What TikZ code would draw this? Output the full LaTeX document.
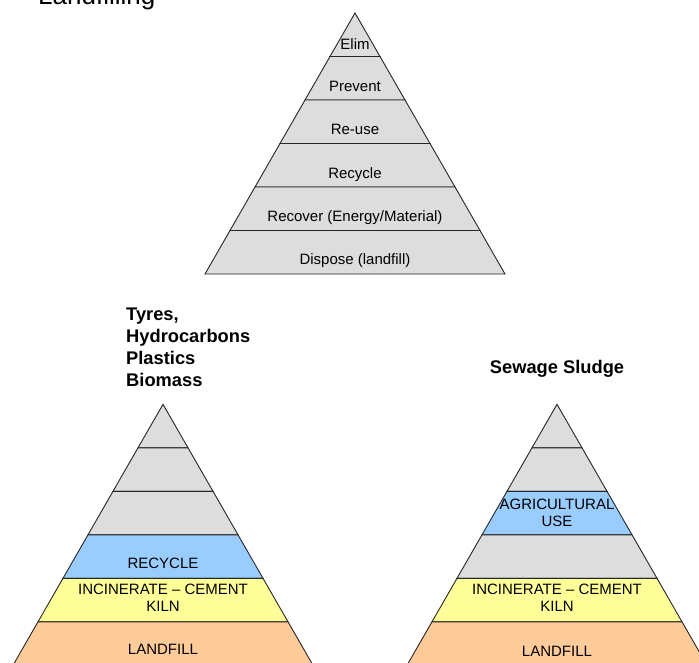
\documentclass[tikz,border=0pt]{standalone}
\usepackage{fontspec}
\setmainfont{Liberation Sans}
\definecolor{bandgray}{HTML}{DDDDDD}
\definecolor{bandblue}{HTML}{99CCFF}
\definecolor{bandyellow}{HTML}{FFFF99}
\definecolor{bandorange}{HTML}{FFCC99}
\tikzset{
  band/.style={draw=black!85, line width=0.9pt, line join=miter},
  lbl/.style={inner sep=0pt, font=\fontsize{15}{17.4}\selectfont, align=center},
  head/.style={inner sep=0pt, font=\fontsize{18.3}{22}\selectfont\bfseries, anchor=base west},
}
% six stacked bands of a pyramid: apex x, apex y, list of six fill colours
% (each band is 43.5 high; half-width grows by 25 per band)
\newcommand{\wastepyramid}[3]{%
  \foreach \c [count=\i from 0] in {#3} {
    \pgfmathsetmacro\ya{#2+\i*43.5}
    \pgfmathsetmacro\yb{#2+(\i+1)*43.5}
    \pgfmathsetmacro\wa{\i*25}
    \pgfmathsetmacro\wb{(\i+1)*25}
    \filldraw[band, fill=\c] (#1-\wa,\ya) -- (#1+\wa,\ya) -- (#1+\wb,\yb) -- (#1-\wb,\yb) -- cycle;
  }}
\begin{document}
\begin{tikzpicture}[x=1pt,y=-1pt]
\useasboundingbox[fill=white] (0,0) rectangle (699,662);

% title, partly above the page
\node[inner sep=0pt, anchor=base west, font=\fontsize{26}{30}\selectfont] (title) at (38,4.5) {Landfilling};

% general waste hierarchy
\wastepyramid{355}{13}{bandgray,bandgray,bandgray,bandgray,bandgray,bandgray}
\node[lbl, anchor=base] (elim) at (355,49.5) {Elim};
\node[lbl, anchor=base] (prevent) at (355,91.5) {Prevent};
\node[lbl, anchor=base] (reuse) at (355,134.5) {Re-use};
\node[lbl, anchor=base] (recycle) at (355,178.5) {Recycle};
\node[lbl, anchor=base] (recover) at (355,221.5) {Recover (Energy/Material)};
\node[lbl, anchor=base] (dispose) at (355,264.5) {Dispose (landfill)};

% tyres, hydrocarbons, plastics, biomass
\node[head] (h1) at (126,320) {Tyres,};
\node[head] (h2) at (126,342) {Hydrocarbons};
\node[head] (h3) at (126,364) {Plastics};
\node[head] (h4) at (126,386) {Biomass};
\wastepyramid{163}{404.3}{bandgray,bandgray,bandgray,bandblue,bandyellow,bandorange}
\node[lbl, anchor=base] (lrecycle) at (163,568) {RECYCLE};
\node[lbl] (lincin) at (163,598) {INCINERATE – CEMENT\\KILN};
\node[lbl, anchor=base] (llandfill) at (163,654.5) {LANDFILL};

% sewage sludge
\node[inner sep=0pt, anchor=base, font=\fontsize{18.3}{22}\selectfont\bfseries] (sludge) at (557,373) {Sewage Sludge};
\wastepyramid{557}{404.3}{bandgray,bandgray,bandblue,bandgray,bandyellow,bandorange}
\node[lbl] (ragri) at (557,512.7) {AGRICULTURAL\\USE};
\node[lbl] (rincin) at (557,597.5) {INCINERATE – CEMENT\\KILN};
\node[lbl, anchor=base] (rlandfill) at (557,656) {LANDFILL};
\end{tikzpicture}
\end{document}
